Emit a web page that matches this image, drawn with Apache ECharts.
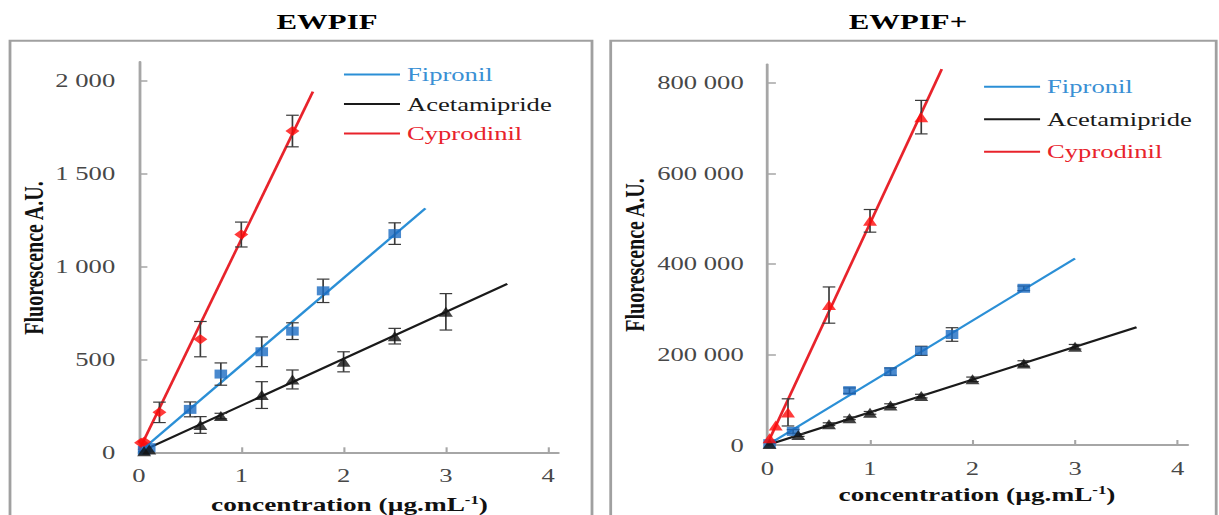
<!DOCTYPE html>
<html>
<head>
<meta charset="utf-8">
<script src="https://cdn.jsdelivr.net/npm/echarts@6/dist/echarts.min.js"></script>
<style>
  html, body { margin: 0; padding: 0; background: #fff; overflow: hidden; }
  #chart { width: 870.714px; height: 515px; transform: scaleX(1.4); transform-origin: 0 0; }
</style>
</head>
<body>
<div id="chart"></div>
<script>
// ---------------- DATA ----------------
const panelTitles = ['EWPIF', 'EWPIF+'];
const seriesNames = ['Fipronil', 'Acetamipride', 'Cyprodinil'];

const xTickValues = [0, 1, 2, 3, 4];
const xTickLabels = ['0', '1', '2', '3', '4'];
const leftYTickValues = [0, 500, 1000, 1500, 2000];
const leftYTickLabels = ['0', '500', '1 000', '1 500', '2 000'];
const rightYTickValues = [0, 200000, 400000, 600000, 800000];
const rightYTickLabels = ['0', '200 000', '400 000', '600 000', '800 000'];

// EWPIF (left panel)
const ewpifFipronilX   = [0.05, 0.1, 0.5, 0.8, 1.2, 1.5, 1.8, 2.5];
const ewpifFipronilY   = [10, 25, 231, 421, 541, 652, 869, 1177];
const ewpifFipronilErr = [0, 0, 40, 60, 80, 45, 63, 58];
const ewpifAcetX       = [0.05, 0.1, 0.6, 0.8, 1.2, 1.5, 2.0, 2.5, 3.0];
const ewpifAcetY       = [5, 15, 147, 195, 308, 392, 487, 625, 756];
const ewpifAcetErr     = [0, 0, 45, 15, 72, 51, 54, 42, 98];
const ewpifCyproX      = [0.02, 0.05, 0.2, 0.6, 1.0, 1.5];
const ewpifCyproY      = [52, 57, 215, 609, 1172, 1729];
const ewpifCyproErr    = [0, 0, 55, 95, 67, 85];
const ewpifFitFipronil = [[0, 0], [2.8, 1313]];
const ewpifFitAcet     = [[0, 0], [3.6, 906]];
const ewpifFitCypro    = [[0, 10], [1.7, 1941]];

// EWPIF+ (right panel)
const plusFipronilX    = [0.02, 0.25, 0.8, 1.2, 1.5, 1.8, 2.5];
const plusFipronilY    = [3000, 30000, 120000, 162000, 208000, 244000, 346000];
const plusFipronilErr  = [0, 4000, 6000, 8000, 10000, 15000, 5000];
const plusAcetX        = [0.02, 0.3, 0.6, 0.8, 1.0, 1.2, 1.5, 2.0, 2.5, 3.0];
const plusAcetY        = [2000, 22000, 46000, 59000, 71000, 87000, 108000, 145000, 180000, 217000];
const plusAcetErr      = [0, 3000, 3000, 3000, 3000, 4000, 4000, 5000, 6000, 5000];
const plusCyproX       = [0.02, 0.08, 0.2, 0.6, 1.0, 1.5];
const plusCyproY       = [15000, 43000, 72000, 309000, 495000, 724000];
const plusCyproErr     = [0, 0, 30000, 40000, 25000, 37000];
const plusFitFipronil  = [[0, 0], [3.0, 412000]];
const plusFitAcet      = [[0, 0], [3.6, 260000]];
const plusFitCypro     = [[0, 3000], [1.7, 830000]];

// ---------------- STYLE ----------------
const S = 1.4; // horizontal stretch of the whole figure
const SERIF = "'Liberation Serif', 'Times New Roman', serif";
const lineColors = { Fipronil: '#2b8fd6', Acetamipride: '#1a1a1a', Cyprodinil: '#e8232b' };
const markColors = { Fipronil: '#1c6cc2', Acetamipride: '#111111', Cyprodinil: '#ff0a0a' };
const AXIS_COLOR = '#a6a6a6';
const LABEL_COLOR = '#474747';

function fmt(vals, labels) {
  return function (v) {
    const i = vals.findIndex(t => Math.abs(t - v) < 1e-6);
    return i < 0 ? '' : labels[i];
  };
}
function zip3(xs, ys, es) { return xs.map((x, i) => [x, ys[i], es[i]]); }

function errRender(params, api) {
  const x = api.value(0), y = api.value(1), e = api.value(2);
  if (!e) return null;
  const top = api.coord([x, y + e]);
  const bot = api.coord([x, y - e]);
  const hw = 4.5;
  const style = { stroke: '#3a3a3a', lineWidth: 1.2 };
  return {
    type: 'group',
    children: [
      { type: 'line', shape: { x1: top[0], y1: top[1], x2: bot[0], y2: bot[1] }, style },
      { type: 'line', shape: { x1: top[0] - hw, y1: top[1], x2: top[0] + hw, y2: top[1] }, style },
      { type: 'line', shape: { x1: bot[0] - hw, y1: bot[1], x2: bot[0] + hw, y2: bot[1] }, style }
    ]
  };
}

function xAxisDef(gi) {
  return {
    gridIndex: gi, type: 'value', min: 0, max: 4.1, interval: 1,
    axisLine: { show: true, onZero: false, lineStyle: { color: AXIS_COLOR, width: 2 } },
    axisTick: { show: true, inside: true, length: 5, customValues: xTickValues, lineStyle: { color: AXIS_COLOR, width: 1.5 } },
    axisLabel: { customValues: xTickValues, formatter: fmt(xTickValues, xTickLabels), margin: 14,
                 fontFamily: SERIF, fontSize: 19, color: LABEL_COLOR },
    splitLine: { show: false }
  };
}
function yAxisDef(gi, max, interval, vals, labels) {
  return {
    gridIndex: gi, type: 'value', min: 0, max: max, interval: interval,
    axisLine: { show: true, onZero: false, lineStyle: { color: AXIS_COLOR, width: 2 } },
    axisTick: { show: true, inside: true, length: 6, customValues: vals, lineStyle: { color: AXIS_COLOR, width: 1.5 } },
    axisLabel: { customValues: vals, formatter: fmt(vals, labels), margin: 17,
                 fontFamily: SERIF, fontSize: 19, color: LABEL_COLOR },
    splitLine: { show: false }
  };
}

function panelSeries(gi, fits, pts, symbols) {
  const out = [];
  seriesNames.forEach((name, k) => {
    out.push({
      name: name, type: 'line', xAxisIndex: gi, yAxisIndex: gi, data: fits[k],
      symbol: 'none', lineStyle: { color: lineColors[name], width: 2 }, itemStyle: { color: lineColors[name] },
      z: 2, silent: true, animation: false
    });
  });
  seriesNames.forEach((name, k) => {
    out.push({
      name: name + ' error', type: 'custom', xAxisIndex: gi, yAxisIndex: gi,
      data: pts[k], renderItem: errRender, encode: { x: 0, y: 1 }, z: 3, silent: true, animation: false
    });
  });
  seriesNames.forEach((name, k) => {
    out.push({
      name: name + ' data', type: 'scatter', xAxisIndex: gi, yAxisIndex: gi,
      data: pts[k].map(p => [p[0], p[1]]), symbol: symbols[k],
      symbolSize: symbols[k] === 'triangle' ? 10 : (symbols[k] === 'diamond' ? 10 : 9),
      itemStyle: { color: markColors[name] }, z: 4, silent: true, animation: false
    });
  });
  return out;
}

function legendDef(left, top, gap) {
  return {
    orient: 'vertical', left: left, top: top, itemGap: gap, itemWidth: 40, itemHeight: 2,
    icon: 'rect', selectedMode: false,
    textStyle: { fontFamily: SERIF, fontSize: 19, lineHeight: 20 },
    data: seriesNames.map(n => ({ name: n, textStyle: { color: n === 'Acetamipride' ? '#1a1a1a' : (n === 'Fipronil' ? '#3a90d4' : lineColors[n]) } }))
  };
}

const leftPts = [
  zip3(ewpifFipronilX, ewpifFipronilY, ewpifFipronilErr),
  zip3(ewpifAcetX, ewpifAcetY, ewpifAcetErr),
  zip3(ewpifCyproX, ewpifCyproY, ewpifCyproErr)
];
const rightPts = [
  zip3(plusFipronilX, plusFipronilY, plusFipronilErr),
  zip3(plusAcetX, plusAcetY, plusAcetErr),
  zip3(plusCyproX, plusCyproY, plusCyproErr)
];

const titleFont = { fontFamily: SERIF, fontSize: 22, fontWeight: 'bold', fill: '#000' };
const axisNameFont = { fontFamily: SERIF, fontSize: 20, fontWeight: 'bold', fill: '#111' };
function xName(x, y) {
  return {
    type: 'text', x: x, y: y,
    style: {
      text: 'concentration (µg.mL{sup|-1})', align: 'center', verticalAlign: 'middle',
      fontFamily: SERIF, fontSize: 19.5, fontWeight: 'bold', fill: '#111',
      rich: { sup: { fontFamily: SERIF, fontSize: 12, fontWeight: 'bold', fill: '#111', padding: [0, 0, 9, 0] } }
    }
  };
}

const chart = echarts.init(document.getElementById('chart'), null, { renderer: 'svg' });
chart.setOption({
  animation: false,
  backgroundColor: '#fff',
  grid: [
    { left: 139 / S, top: 62.1, width: 419.4 / S, height: 390.2, outerBoundsMode: 'none' },
    { left: 767.5 / S, top: 64.6, width: 420.3 / S, height: 380.4, outerBoundsMode: 'none' }
  ],
  xAxis: [xAxisDef(0), xAxisDef(1)],
  yAxis: [
    yAxisDef(0, 2100, 500, leftYTickValues, leftYTickLabels),
    yAxisDef(1, 840000, 200000, rightYTickValues, rightYTickLabels)
  ],
  legend: [legendDef(240.7, 59.5, 9.5), legendDef(697.9, 71.7, 12.5)],
  graphic: [
    { type: 'rect', shape: { x: 10 / S, y: 40.7, width: 582 / S, height: 520 },
      style: { fill: 'none', stroke: '#a0a0a0', lineWidth: 2 }, z: -1 },
    { type: 'rect', shape: { x: 610.7 / S, y: 40.7, width: 605.5 / S, height: 520 },
      style: { fill: 'none', stroke: '#a0a0a0', lineWidth: 2 }, z: -1 },
    { type: 'text', x: 327 / S, y: 22, style: Object.assign({ text: panelTitles[0], align: 'center', verticalAlign: 'middle' }, titleFont) },
    { type: 'text', x: 908 / S, y: 22, style: Object.assign({ text: panelTitles[1], align: 'center', verticalAlign: 'middle' }, titleFont) },
    { type: 'text', x: 33 / S, y: 258, rotation: Math.PI / 2,
      style: Object.assign({ text: 'Fluorescence A.U.', align: 'center', verticalAlign: 'middle' }, axisNameFont) },
    { type: 'text', x: 634 / S, y: 255, rotation: Math.PI / 2,
      style: Object.assign({ text: 'Fluorescence A.U.', align: 'center', verticalAlign: 'middle' }, axisNameFont) },
    xName(349.5 / S, 504),
    xName(977 / S, 494)
  ],
  series: [].concat(
    panelSeries(0, [ewpifFitFipronil, ewpifFitAcet, ewpifFitCypro], leftPts, ['rect', 'triangle', 'diamond']),
    panelSeries(1, [plusFitFipronil, plusFitAcet, plusFitCypro], rightPts, ['rect', 'triangle', 'triangle'])
  )
});
</script>
</body>
</html>
